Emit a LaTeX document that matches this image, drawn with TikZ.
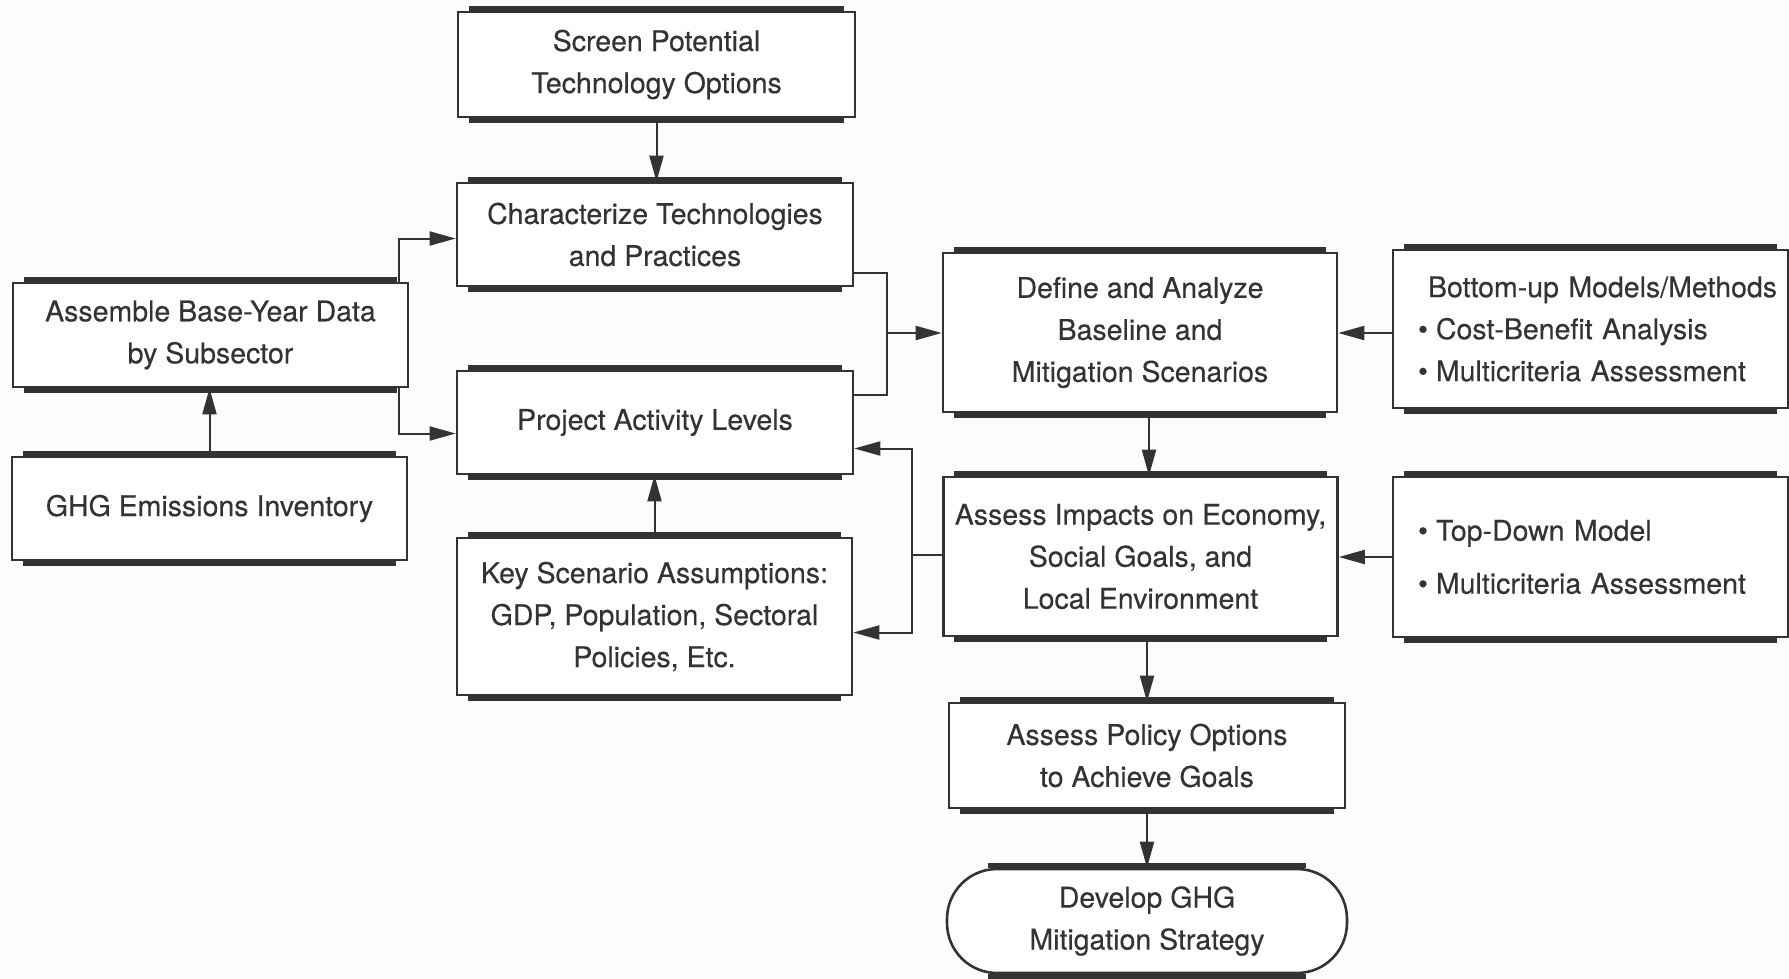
\documentclass[tikz,border=0pt]{standalone}
\usepackage{fontspec}
\setmainfont{TeX Gyre Heros}
\usetikzlibrary{arrows.meta}
\definecolor{ink}{HTML}{333333}
\definecolor{paper}{HTML}{FCFCFB}
\newcommand{\itm}{\textbullet\hspace{8pt}}
\begin{document}
\begin{tikzpicture}[x=1pt,y=-1pt,
  every node/.style={font=\fontsize{28.5}{42}\selectfont\addfontfeature{FakeBold=0.3}, text=ink},
  stepbox/.style={draw=ink, line width=2.6pt, fill=white, align=center,
    inner sep=0pt, minimum width=#1},
  stepbox/.default=395pt,
  bar/.style={draw=ink, line width=5pt},
  link/.style={draw=ink, line width=2pt},
  arr/.style={link, -{Triangle[length=26pt,width=14pt]}}
]
\useasboundingbox[fill=paper] (0,0) rectangle (1789,978);

% process boxes
\node[stepbox=397pt, minimum height=105pt] (screen)  at (656.5,64.5) {Screen Potential\\Technology Options};
\node[stepbox=396pt, minimum height=103pt] (charact) at (655,234.5) {Characterize Technologies\\and Practices};
\node[stepbox=395pt, minimum height=104pt] (assemble) at (210.5,335) {Assemble Base-Year Data\\by Subsector};
\node[stepbox=395pt, minimum height=103pt] (ghg)     at (209.5,508.5) {GHG Emissions Inventory};
\node[stepbox=396pt, minimum height=103pt] (project) at (655,422.5) {Project Activity Levels};
\node[stepbox=395pt, minimum height=157pt] (key)     at (654.5,616.5) {Key Scenario Assumptions:\\GDP, Population, Sectoral\\Policies, Etc.};
\node[stepbox=394pt, minimum height=159pt] (define)  at (1140,332.5) {Define and Analyze\\Baseline and\\Mitigation Scenarios};
\node[stepbox=394pt, minimum height=159pt] (impacts) at (1140.5,556.5) {Assess Impacts on Economy,\\Social Goals, and\\Local Environment};
\node[stepbox=395pt, minimum height=158pt, align=left, text width=395pt] (bottomup) at (1590.5,329)
  {\hspace*{35pt}\mbox{Bottom-up Models/Methods}\\\hspace*{25pt}\mbox{\itm Cost-Benefit Analysis}\\\hspace*{25pt}\mbox{\itm Multicriteria Assessment}};
\node[stepbox=395pt, minimum height=160pt, align=left, text width=395pt] (topdown) at (1590.5,557)
  {\hspace*{25pt}\mbox{\itm Top-Down Model}\\[11pt]\hspace*{25pt}\mbox{\itm Multicriteria Assessment}};
\node[stepbox=396pt, minimum height=105pt] (policy)  at (1147,755.5) {Assess Policy Options\\to Achieve Goals};
\node[stepbox=400pt, minimum height=104pt, rounded corners=50pt] (develop) at (1147,921) {Develop GHG\\Mitigation Strategy};

% heavy rules along the top and bottom edges
\foreach \n in {screen,charact,assemble,ghg,project,key,define,impacts,bottomup,topdown,policy} {
  \draw[bar] ([xshift=12pt,yshift=2pt]\n.north west) -- ([xshift=-12pt,yshift=2pt]\n.north east);
  \draw[bar] ([xshift=12pt,yshift=-2pt]\n.south west) -- ([xshift=-12pt,yshift=-2pt]\n.south east);
}
\draw[bar] ([xshift=42pt,yshift=2pt]develop.north west) -- ([xshift=-42pt,yshift=2pt]develop.north east);
\draw[bar] ([xshift=42pt,yshift=-2pt]develop.south west) -- ([xshift=-42pt,yshift=-2pt]develop.south east);

% connectors
\draw[arr] (screen.south) -- (screen.south |- charact.north);
\draw[arr] ([xshift=-10pt]assemble.north east) |- ([yshift=-4pt]charact.west);
\draw[arr] ([xshift=-10pt]assemble.south east) |- ([yshift=-11pt]project.west);
\draw[arr] (ghg.north) -- (ghg.north |- assemble.south);
\draw[arr] (key.north) -- (key.north |- project.south);

\coordinate (j1) at (887,333);
\draw[link] ([yshift=-38pt]charact.east) -| (j1) |- ([yshift=28pt]project.east);
\draw[arr] (j1) -- (j1 -| define.west);
\draw[arr] (bottomup.west |- j1) -- (j1 -| define.east);

\draw[arr] ([xshift=9pt]define.south) -- ([xshift=9pt]define.south |- impacts.north);

\coordinate (j2) at (912,555);
\draw[link] (j2 -| impacts.west) -- (j2);
\draw[arr] (j2) |- ([yshift=-26pt]project.east);
\draw[arr] (j2) |- ([yshift=-16pt]key.east);
\draw[arr] (topdown.west) -- (topdown.west -| impacts.east);

\draw[arr] (policy.north |- impacts.south) -- (policy.north);
\draw[arr] (policy.south) -- (develop.north);
\end{tikzpicture}
\end{document}
